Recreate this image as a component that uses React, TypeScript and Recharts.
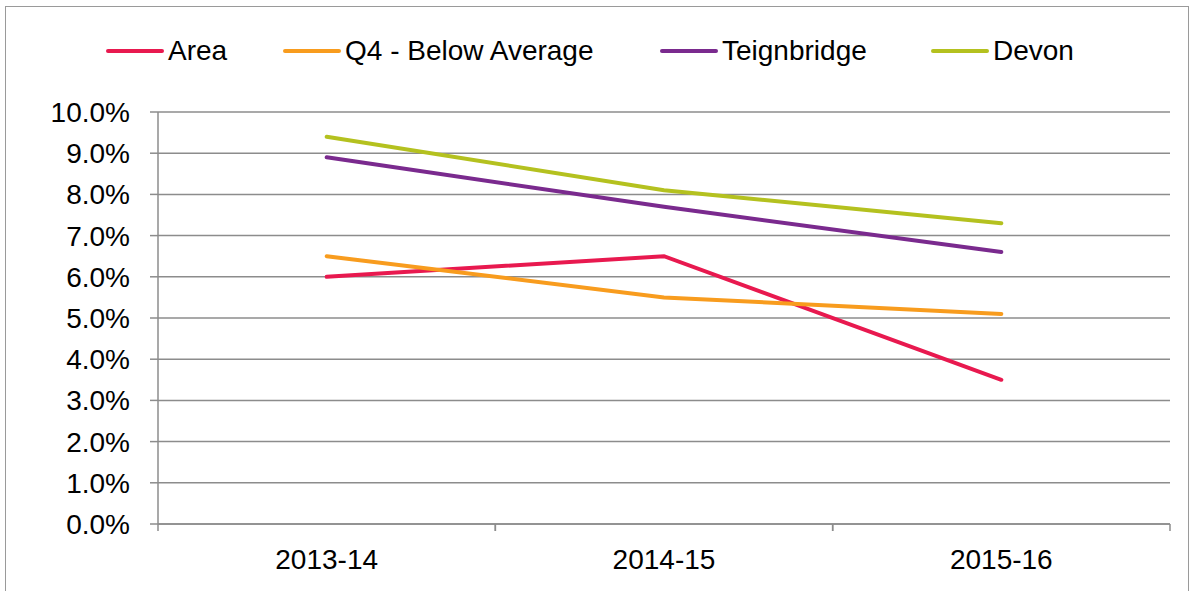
import React from 'react';
import { LineChart, Line, XAxis, YAxis, CartesianGrid } from 'recharts';

const YEARS = ['2013-14', '2014-15', '2015-16'];
const AREA = [6.0, 6.5, 3.5];
const Q4_BELOW_AVERAGE = [6.5, 5.5, 5.1];
const TEIGNBRIDGE = [8.9, 7.7, 6.6];
const DEVON = [9.4, 8.1, 7.3];
const Y_TICKS = [0, 1, 2, 3, 4, 5, 6, 7, 8, 9, 10];

const SERIES = [
  { key: 'area', name: 'Area', values: AREA, color: '#E8194F' },
  { key: 'q4', name: 'Q4 - Below Average', values: Q4_BELOW_AVERAGE, color: '#F89C1E' },
  { key: 'teign', name: 'Teignbridge', values: TEIGNBRIDGE, color: '#7A2A8E' },
  { key: 'devon', name: 'Devon', values: DEVON, color: '#B4C11F' },
];

// left edge of each legend entry's swatch
const LEGEND_X = [108, 285, 662, 933];

const data = YEARS.map((year, i) => {
  const row: Record<string, string | number> = { year };
  SERIES.forEach((s) => {
    row[s.key] = s.values[i];
  });
  return row;
});

const CHART_W = 1194;
const CHART_H = 591;
const MARGIN = { top: 112, right: 24, bottom: 0, left: 0 };
const Y_AXIS_W = 158;
const FONT = '"Liberation Sans", Arial, sans-serif';
const FONT_SIZE = 28;
const AXIS_GREY = '#8c8c8c';

const halfBand = (CHART_W - MARGIN.left - MARGIN.right - Y_AXIS_W) / YEARS.length / 2;

const YearTick = (props: any) => {
  const { x, y, payload } = props;
  return (
    <g>
      <line x1={x - halfBand} x2={x - halfBand} y1={y} y2={y + 7} stroke={AXIS_GREY} strokeWidth={1.5} />
      <line x1={x + halfBand} x2={x + halfBand} y1={y} y2={y + 7} stroke={AXIS_GREY} strokeWidth={1.5} />
      <text x={x} y={y + 45} textAnchor="middle" fill="#000" fontSize={FONT_SIZE} fontFamily={FONT}>
        {payload.value}
      </text>
    </g>
  );
};

const LegendRow = () => (
  <>
    {SERIES.map((s, i) => (
      <div
        key={s.key}
        style={{
          position: 'absolute',
          left: LEGEND_X[i] - 2,
          top: 51,
          transform: 'translateY(-50%)',
          display: 'flex',
          alignItems: 'center',
          fontFamily: FONT,
          fontSize: FONT_SIZE,
          color: '#000',
          whiteSpace: 'nowrap',
          lineHeight: 1,
        }}
      >
        <svg width={60} height={10} style={{ marginRight: 2 }}>
          <line x1={2} x2={56} y1={5} y2={5} stroke={s.color} strokeWidth={4} strokeLinecap="round" />
        </svg>
        <span>{s.name}</span>
      </div>
    ))}
  </>
);

export default function App() {
  return (
    <div style={{ position: 'fixed', left: 0, top: 0, width: CHART_W, height: CHART_H, overflow: 'hidden', background: '#fff' }}>
      <div
        style={{
          position: 'absolute',
          left: 5,
          top: 6,
          width: 1184,
          height: 620,
          border: '1.5px solid #9a9a9a',
          boxSizing: 'border-box',
        }}
      />
      <LegendRow />
      <div style={{ position: 'absolute', left: 0, top: 0 }}>
        <LineChart width={CHART_W} height={CHART_H} data={data} margin={MARGIN}>
          <CartesianGrid vertical={false} stroke={AXIS_GREY} strokeWidth={1.5} />
          <XAxis
            dataKey="year"
            scale="band"
            height={67}
            tickLine={false}
            tickSize={0}
            tickMargin={0}
            stroke={AXIS_GREY}
            strokeWidth={1.5}
            tick={<YearTick />}
            interval={0}
          />
          <YAxis
            width={Y_AXIS_W}
            domain={[0, 10]}
            ticks={Y_TICKS}
            interval={0}
            tickSize={8}
            tickMargin={20}
            stroke={AXIS_GREY}
            strokeWidth={1.5}
            tickFormatter={(v: number) => `${v.toFixed(1)}%`}
            tick={{ fill: '#000', fontSize: FONT_SIZE, fontFamily: FONT }}
          />
          {SERIES.map((s) => (
            <Line
              key={s.key}
              dataKey={s.key}
              name={s.name}
              stroke={s.color}
              strokeWidth={4}
              strokeLinecap="round"
              dot={false}
              activeDot={false}
              isAnimationActive={false}
            />
          ))}
        </LineChart>
      </div>
    </div>
  );
}
